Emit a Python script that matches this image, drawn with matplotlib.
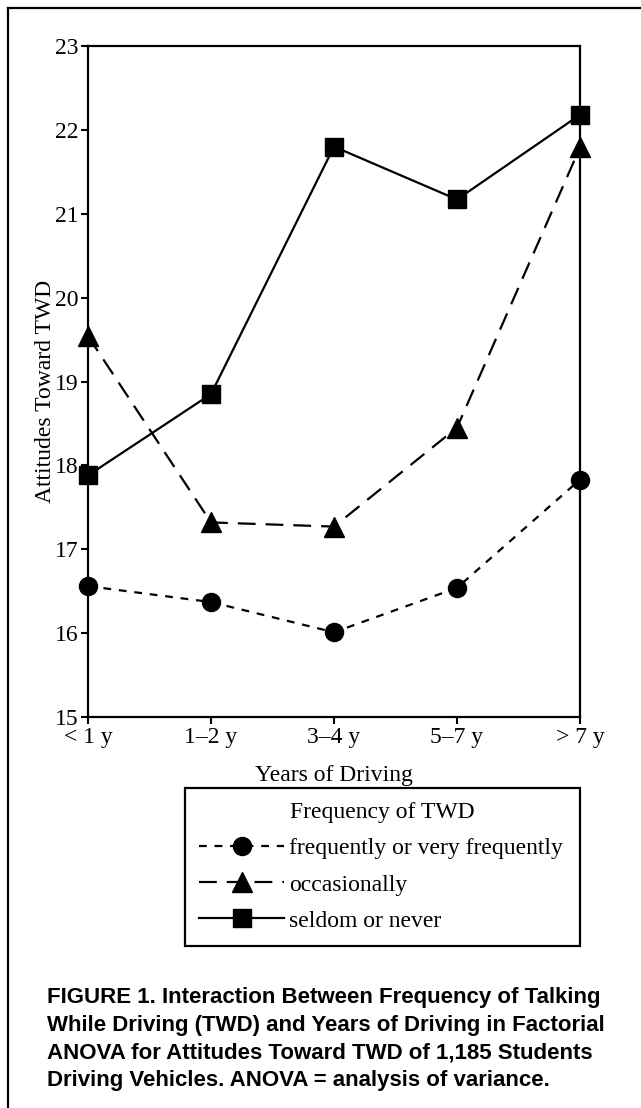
import matplotlib
matplotlib.use("Agg")
import matplotlib.pyplot as plt
from matplotlib.lines import Line2D

# values
years = ["< 1 y", "1\u20132 y", "3\u20134 y", "5\u20137 y", "> 7 y"]
frequent = [16.56, 16.37, 16.01, 16.54, 17.83]
occasional = [19.54, 17.32, 17.27, 18.45, 21.79]
seldom = [17.88, 18.85, 21.80, 21.17, 22.18]
series_labels = ["frequently or very frequently", "occasionally", "seldom or never"]
y_ticks = [15, 16, 17, 18, 19, 20, 21, 22, 23]

caption = ("FIGURE 1. Interaction Between Frequency of Talking\n"
           "While Driving (TWD) and Years of Driving in Factorial\n"
           "ANOVA for Attitudes Toward TWD of 1,185 Students\n"
           "Driving Vehicles. ANOVA = analysis of variance.")

plt.rcParams['font.family'] = ['Liberation Serif', 'DejaVu Serif']

W, H = 641, 1108
fs = 17
fig = plt.figure(figsize=(W / 100, H / 100), dpi=100)
ax = fig.add_axes([88 / W, 1 - 717 / H, (580 - 88) / W, (717 - 46) / H])

x = list(range(len(years)))
lw = 1.6
ax.plot(x, frequent, color='black', lw=lw, ls=(0, (3.5, 3.5)), marker='o', ms=13,
        clip_on=False, label=series_labels[0])
ax.plot(x, occasional, color='black', lw=lw, ls=(0, (8, 4.5)), marker='^', ms=15,
        clip_on=False, label=series_labels[1])
ax.plot(x, seldom, color='black', lw=lw, ls='-', marker='s', ms=12.5,
        clip_on=False, label=series_labels[2])

ax.set_xlim(0, len(years) - 1)
ax.set_ylim(y_ticks[0], y_ticks[-1])
ax.set_yticks(y_ticks)
ax.set_xticks(x)
ax.set_xticklabels(years)
ax.tick_params(axis='both', direction='out', length=5, width=1.5, labelsize=fs,
               color='black', pad=2)
for s in ax.spines.values():
    s.set_linewidth(1.6)

fig.text(46 / W, 1 - 391 / H, "Attitudes Toward TWD", rotation=90, fontsize=fs,
         ha='center', va='center')
fig.text(334 / W, 1 - 775 / H, "Years of Driving", fontsize=fs, ha='center', va='center')

leg = ax.legend(loc='upper left', bbox_to_anchor=(185 / W, 1 - 950 / H, 395 / W, 162 / H),
                bbox_transform=fig.transFigure, mode='expand', borderaxespad=0,
                title="Frequency of TWD", fontsize=fs, title_fontsize=fs,
                handlelength=3.6, handletextpad=0.2, labelspacing=0.62, borderpad=0.6,
                fancybox=False, edgecolor='black', framealpha=1)
leg.get_frame().set_linewidth(1.6)

fig.text(47 / W, 1 - 987 / H, caption, fontsize=16, fontweight='bold',
         family=['Liberation Sans', 'DejaVu Sans'], ha='left', va='top', linespacing=1.42)

# page border
fig.add_artist(Line2D([8 / W, 8 / W], [0, 1 - 8 / H], transform=fig.transFigure,
                      color='black', lw=1.6))
fig.add_artist(Line2D([8 / W, 1], [1 - 8 / H, 1 - 8 / H], transform=fig.transFigure,
                      color='black', lw=1.6))

fig.savefig('out.png', dpi=100)
